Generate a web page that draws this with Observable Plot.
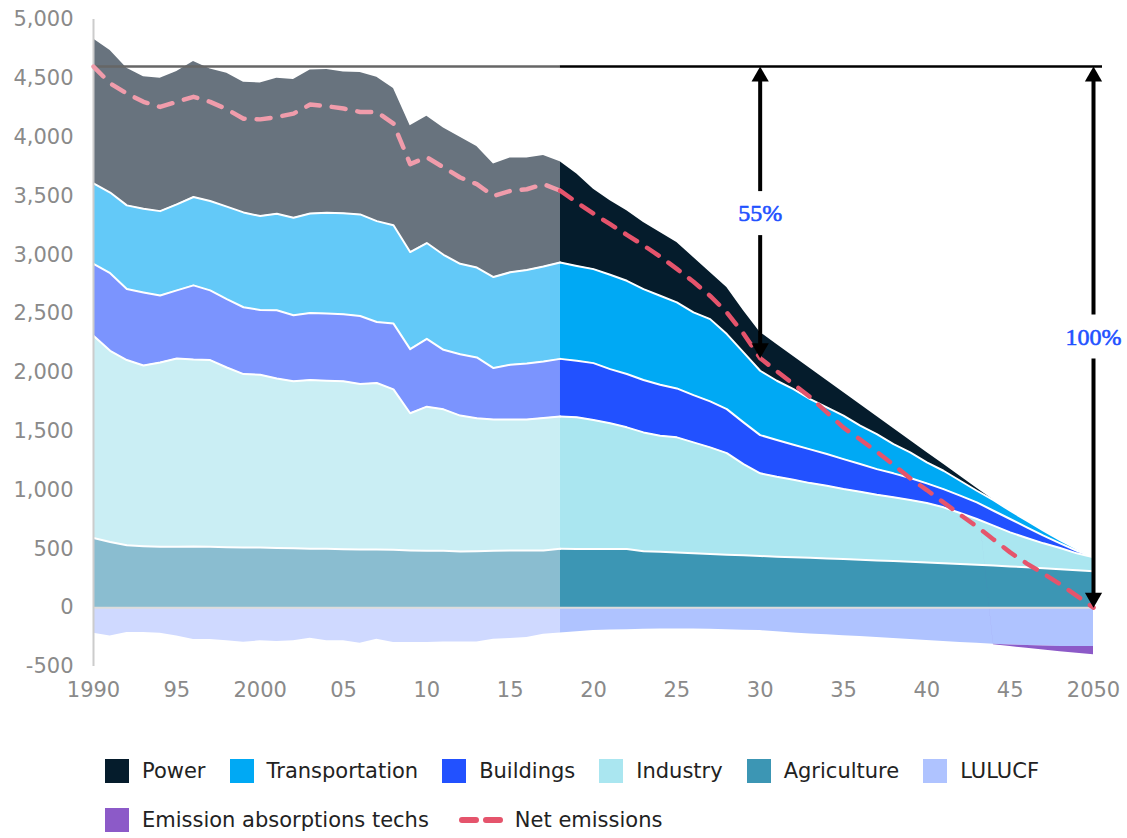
<!DOCTYPE html>
<html><head><meta charset="utf-8">
<script src="https://cdn.jsdelivr.net/npm/d3@7"></script>
<script src="https://cdn.jsdelivr.net/npm/@observablehq/plot@0.6"></script>
<style>
body{margin:0;background:#fff;font-family:"DejaVu Sans",sans-serif;}
#chart{position:absolute;left:0;top:0;}
#legend{position:absolute;left:105px;top:759px;width:1010px;font-size:21px;color:#222;}
.row{display:flex;align-items:center;height:24px;margin-bottom:25px;}
.item{display:flex;align-items:center;margin-right:24px;white-space:nowrap;}
.sw{width:24px;height:24px;margin-right:13px;flex:none;}
</style></head><body>
<div id="chart"></div><div id="legend"></div>
<script>
// ---- Data (MtCO2e) ----
const histYears = [1990,1991,1992,1993,1994,1995,1996,1997,1998,1999,2000,2001,2002,2003,2004,2005,2006,2007,2008,2009,2010,2011,2012,2013,2014,2015,2016,2017,2018];
const histPower = [1228,1208,1166,1123,1129,1128,1152,1123,1134,1106,1131,1151,1177,1220,1217,1200,1206,1223,1163,1074,1077,1077,1077,1029,960,972,952,943,855];
const histTransportation = [683,686,711,711,717,732,751,760,786,806,798,820,828,845,857,860,863,857,836,825,815,808,768,764,774,786,795,807,820];
const histBuildings = [612,659,604,621,569,578,630,592,581,568,551,580,562,571,571,570,579,519,559,545,576,506,522,517,438,466,477,480,490];
const histIndustry = [1718,1625,1574,1536,1568,1602,1590,1588,1528,1475,1469,1441,1418,1435,1429,1427,1407,1416,1364,1167,1226,1203,1156,1130,1116,1113,1113,1127,1125];
const histAgriculture = [593,559,531,523,517,517,520,517,514,511,511,508,506,500,500,497,494,494,492,486,483,483,477,480,483,486,486,486,500];
const histLULUCF = [-218,-240,-212,-212,-218,-240,-271,-271,-282,-294,-282,-288,-282,-260,-282,-282,-302,-268,-297,-297,-297,-291,-291,-291,-268,-263,-254,-226,-216];
const histNet = [4600,4457,4371,4300,4257,4300,4343,4300,4237,4157,4151,4171,4200,4277,4263,4243,4214,4214,4114,3771,3829,3743,3657,3600,3500,3543,3557,3600,3545];

const projYears = [2018,2019,2020,2021,2022,2023,2024,2025,2026,2027,2028,2029,2030,2031,2032,2033,2034,2035,2036,2037,2038,2039,2040,2041,2042,2043,2044,2045,2046,2047,2048,2049,2050];
const projPower = [855,781,680,629,595,567,538,510,467,397,396,354,326,309,278,261,229,198,181,150,133,102,85,55,38,21,0,0,0,0,0,0,0];
const projTransportation = [820,806,799,802,793,773,757,731,703,699,638,595,547,504,473,427,397,369,326,298,249,218,178,156,127,99,91,70,56,42,28,15,9];
const projBuildings = [490,481,484,461,453,445,433,416,402,391,374,354,325,312,297,287,269,255,235,218,204,187,167,155,147,141,127,114,91,65,40,22,5];
const projIndustry = [1125,1120,1096,1068,1034,1011,987,978,942,907,863,776,703,679,659,635,618,594,578,558,541,524,505,475,433,389,339,289,249,212,180,144,119];
const projAgriculture = [500,498,499,499,499,479,475,470,463,456,451,445,439,434,429,424,419,414,408,402,397,391,385,378,372,365,358,351,343,335,327,318,309];
const projLULUCF = [-216,-205,-195,-190,-187,-184,-182,-181,-181,-183,-187,-191,-195,-205,-215,-224,-231,-238,-246,-254,-261,-270,-280,-288,-296,-303,-310,-317,-322,-326,-329,-330,-331];
const projAbsorption = [0,0,0,0,0,0,0,0,0,0,0,0,0,0,0,0,0,0,0,0,0,0,0,0,0,0,-6,-14,-23,-34,-45,-57,-70];
const projNet = [3545,3445,3350,3260,3170,3080,2985,2880,2770,2650,2510,2330,2120,2010,1900,1790,1660,1530,1430,1325,1215,1100,1000,895,790,690,580,470,375,290,200,100,0];

const sectors = ["Agriculture","Industry","Buildings","Transportation","Power","LULUCF","Emission absorptions techs"];
const histColors = ["#8abdd0","#caeef4","#7b94fe","#63c9f8","#68737e","#cfd9ff","#b9a0e0"];
const projColors = ["#3c96b4","#aae6f0","#2251ff","#00a9f4","#051c2c","#afc3ff","#8c5ac8"];
const netHistColor = "#f09cab", netProjColor = "#e5546c";

const yTicks = [-500,0,500,1000,1500,2000,2500,3000,3500,4000,4500,5000];
const xTicks = [1990,1995,2000,2005,2010,2015,2020,2025,2030,2035,2040,2045,2050];
const xTickLabels = ["1990","95","2000","05","10","15","20","25","30","35","40","45","2050"];

// annotation arrows (reduction vs 1990 net level)
const arrowYears = [2030, 2050];
const arrowLabels = ["55%", "100%"];
const arrowLabelAt = [3350, 2300];

const legendNames = ["Power","Transportation","Buildings","Industry","Agriculture","LULUCF","Emission absorptions techs"];

// ---- Build tidy tables ----
const histSeries = {Agriculture:histAgriculture, Industry:histIndustry, Buildings:histBuildings, Transportation:histTransportation, Power:histPower, LULUCF:histLULUCF};
const projSeries = {Agriculture:projAgriculture, Industry:projIndustry, Buildings:projBuildings, Transportation:projTransportation, Power:projPower, LULUCF:projLULUCF, "Emission absorptions techs":projAbsorption};
function tidy(years, series, tag) {
  const rows = [];
  for (const s of sectors) {
    if (!series[s]) continue;
    series[s].forEach((v, i) => rows.push({year: years[i], sector: s, value: v, key: tag + "|" + s}));
  }
  return rows;
}
const histRows = tidy(histYears, histSeries, "h");
const projRows = tidy(projYears, projSeries, "p");
const sepSectors = ["Agriculture","Industry","Buildings","Transportation"];
const histSep = histRows.filter(d => sepSectors.includes(d.sector));
const projSep = projRows.filter(d => sepSectors.includes(d.sector));
const netHistRows = histYears.map((y, i) => ({year: y, value: histNet[i]}));
const netProjRows = projYears.map((y, i) => ({year: y, value: projNet[i]}));

const baseline = histNet[0];
const baseHist = [{x1: histYears[0], x2: histYears[histYears.length-1], y: baseline}];
const baseProj = [{x1: projYears[0], x2: projYears[projYears.length-1], y: baseline}];
const arrows = arrowYears.map((yr, i) => ({
  year: yr, label: arrowLabels[i], mid: arrowLabelAt[i], top: baseline,
  bottom: projNet[projYears.indexOf(yr)]
}));

const colorDomain = [...sectors.map(s => "h|" + s), ...sectors.map(s => "p|" + s)];
const colorRange = [...histColors, ...projColors];

const chart = Plot.plot({
  width: 1127, height: 716,
  marginLeft: 93, marginRight: 34, marginTop: 19, marginBottom: 50,
  x: {domain: [1990, 2050]},
  y: {domain: [-500, 5000]},
  color: {domain: colorDomain, range: colorRange},
  style: {fontFamily: "DejaVu Sans", fontSize: "21px", background: "white", overflow: "visible"},
  marks: [
    Plot.areaY(histRows, {x: "year", y: "value", z: "sector", fill: "key"}),
    Plot.areaY(projRows, {x: "year", y: "value", z: "sector", fill: "key"}),
    Plot.lineY(histSep, Plot.stackY2({x: "year", y: "value", z: "sector", stroke: "white", strokeWidth: 2})),
    Plot.lineY(projSep, Plot.stackY2({x: "year", y: "value", z: "sector", stroke: "white", strokeWidth: 2})),
    Plot.ruleY([0], {stroke: "#dcdcdc", strokeWidth: 2}),
    Plot.ruleX([1990], {stroke: "#cccccc", strokeWidth: 2}),
    Plot.ruleY(baseHist, {x1: "x1", x2: "x2", y: "y", stroke: "#666", strokeWidth: 2.5}),
    Plot.ruleY(baseProj, {x1: "x1", x2: "x2", y: "y", stroke: "#000", strokeWidth: 2.5, insetRight: -9}),
    Plot.lineY(netHistRows, {x: "year", y: "value", stroke: netHistColor, strokeWidth: 4.5, strokeDasharray: "14,12", strokeLinecap: "round"}),
    Plot.lineY(netProjRows, {x: "year", y: "value", stroke: netProjColor, strokeWidth: 4.5, strokeDasharray: "14,12", strokeLinecap: "round"}),
    // arrow shafts (gap around the label)
    Plot.ruleX(arrows, {x: "year", y1: "top", y2: "mid", stroke: "black", strokeWidth: 4, insetTop: 12, insetBottom: 22}),
    Plot.ruleX(arrows, {x: "year", y1: "mid", y2: "bottom", stroke: "black", strokeWidth: 4, insetTop: 22, insetBottom: 12}),
    // arrow heads
    Plot.dot(arrows, {x: "year", y: "top", symbol: "triangle", r: 6.4, fill: "black", stroke: "none", dy: 10}),
    Plot.dot(arrows, {x: "year", y: "bottom", symbol: "triangle", r: 6.4, fill: "black", stroke: "none", rotate: 180, dy: -10}),
    Plot.text(arrows, {x: "year", y: "mid", text: "label", fill: "#2251ff", stroke: "#2251ff", strokeWidth: 0.6, fontFamily: "Liberation Serif", fontSize: 24}),
    Plot.axisY({ticks: yTicks, tickSize: 0, tickPadding: 20, label: null, color: "#8a8a8a",
      tickFormat: d => (d < 0 ? "-" : "") + d3.format(",")(Math.abs(d))}),
    Plot.axisX({ticks: xTicks, tickSize: 0, tickPadding: 16, label: null, color: "#8a8a8a",
      tickFormat: d => xTickLabels[xTicks.indexOf(d)]})
  ]
});
document.getElementById("chart").appendChild(chart);

// ---- Legend ----
const legend = document.getElementById("legend");
const legendColor = {};
sectors.forEach((s, i) => legendColor[s] = projColors[i]);
const row1 = document.createElement("div"); row1.className = "row";
const row2 = document.createElement("div"); row2.className = "row";
legendNames.forEach((name, i) => {
  const it = document.createElement("div"); it.className = "item";
  const sw = document.createElement("div"); sw.className = "sw"; sw.style.background = legendColor[name];
  const t = document.createElement("span"); t.textContent = name;
  it.appendChild(sw); it.appendChild(t);
  (i < 6 ? row1 : row2).appendChild(it);
});
const netItem = document.createElement("div"); netItem.className = "item";
netItem.innerHTML = `<svg width="44" height="24" style="margin-right:12px;margin-left:6px"><line x1="3" y1="12" x2="41" y2="12" stroke="${netProjColor}" stroke-width="6" stroke-dasharray="14,10" stroke-linecap="round"/></svg><span>Net emissions</span>`;
row2.appendChild(netItem);
legend.appendChild(row1); legend.appendChild(row2);
</script></body></html>
